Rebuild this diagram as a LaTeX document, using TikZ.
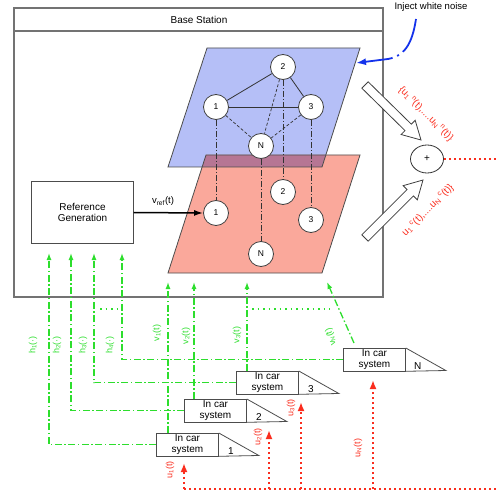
\documentclass[tikz,border=0pt]{standalone}
\usepackage{fontspec}
\setmainfont{Liberation Sans}
\usetikzlibrary{calc}
\usetikzlibrary{arrows.meta}
\usetikzlibrary{shapes.geometric}

\definecolor{planeblue}{RGB}{181,191,247}
\definecolor{planered}{RGB}{250,168,155}
\definecolor{planemix}{RGB}{182,118,148}
\definecolor{sigred}{RGB}{250,45,30}
\definecolor{siggreen}{RGB}{45,222,45}
\definecolor{noiseblue}{RGB}{20,50,235}
\definecolor{framegray}{RGB}{115,115,115}

\newcommand{\incar}[4] % node name, left x, top y (px), number
{
	% text part
	\node[carbox, anchor=north west] (#1) at (#2,#3) {In car\\system};
	% slanted part
	\draw[line width=0.8pt, draw=black!70] (#1.north east) -- ++(40,22.5) -- (#1.south east);
	\node[font=\fontsize{10}{11}\selectfont] (#1num) at ($(#1.south east)+(12,-5.5)$) {#4};
}

\newcommand{\blockarrow}[2] % tail, tip
{
	\coordinate (head) at ($(#2)!18pt!(#1)$);
	\draw[fill=white, draw=black!75, line width=0.8pt]
		($(#1)!4.5pt!90:(#2)$) -- ($(head)!4.5pt!90:(#2)$) -- ($(head)!10pt!90:(#2)$)
		-- (#2) -- ($(head)!10pt!-90:(#2)$) -- ($(head)!4.5pt!-90:(#2)$)
		-- ($(#1)!4.5pt!-90:(#2)$) -- cycle;
}

\begin{document}
\begin{tikzpicture}[x=1pt, y=-1pt,
	station/.style={draw=framegray, line width=1.1pt},
	plane/.style={draw=black!70, line width=0.8pt},
	vertex/.style={circle, draw=black!75, fill=white, line width=0.8pt, minimum size=25, inner sep=0, font=\fontsize{8.5}{9}\selectfont},
	carbox/.style={draw=black!70, line width=0.8pt, minimum width=62, minimum height=22.5, inner sep=0, align=center, font=\fontsize{10}{11}\selectfont},
	link/.style={black!80, line width=0.8pt},
	weaklink/.style={black!80, line width=0.7pt, dash pattern=on 3pt off 2pt},
	layerlink/.style={black!80, line width=0.7pt, dash pattern=on 6pt off 2pt on 1pt off 2pt},
	hline/.style={siggreen, line width=1.3pt, dash pattern=on 7pt off 2.5pt on 1.5pt off 2.5pt, -{Latex[length=7pt,width=5pt]}},
	gdots/.style={siggreen, line width=1.5pt, dash pattern=on 1.5pt off 4pt},
	uline/.style={sigred, line width=1.8pt, dash pattern=on 2pt off 3pt, -{Latex[length=9pt,width=7pt]}},
	rdots/.style={sigred, line width=1.8pt, dash pattern=on 2pt off 3pt},
	noise/.style={noiseblue, line width=1.8pt, dash pattern=on 36pt off 5pt on 2pt off 5pt, -{Latex[length=10pt,width=7pt]}},
	glabel/.style={text=siggreen, font=\fontsize{9}{10}\selectfont, rotate=#1},
	glabel/.default=90,
	rlabel/.style={text=sigred, font=\fontsize{9}{10}\selectfont, rotate=90},
]
	\useasboundingbox (0,0) rectangle (498,497);

	% base station frame
	\draw[station] (14,8) rectangle (383,297);
	\draw[station] (14,31) -- (383,31);
	\node[font=\fontsize{10}{12}\selectfont] (title) at (199,20) {Base Station};

	% the two planes
	\coordinate (bl1) at (207,48);
	\coordinate (bl2) at (360,48);
	\coordinate (bl3) at (322,167);
	\coordinate (bl4) at (168,167);
	\coordinate (rd1) at (206,155);
	\coordinate (rd2) at (360,155);
	\coordinate (rd3) at (322,273);
	\coordinate (rd4) at (168,273);
	\fill[planeblue] (bl1) -- (bl2) -- (bl3) -- (bl4) -- cycle;
	\fill[planered] (rd1) -- (rd2) -- (rd3) -- (rd4) -- cycle;
	\begin{scope}
		\clip (bl1) -- (bl2) -- (bl3) -- (bl4) -- cycle;
		\fill[planemix] (rd1) -- (rd2) -- (rd3) -- (rd4) -- cycle;
	\end{scope}
	\draw[plane] (bl1) -- (bl2) -- (bl3) -- (bl4) -- cycle;
	\draw[plane] (rd1) -- (rd2) -- (rd3) -- (rd4) -- cycle;

	% upper layer
	\node[vertex] (up2) at (283,67) {2};
	\node[vertex] (up1) at (216,107) {1};
	\node[vertex] (up3) at (311,107) {3};
	\node[vertex] (upN) at (261,146) {N};
	% lower layer
	\node[vertex] (lo1) at (216,213) {1};
	\node[vertex] (lo2) at (283,192) {2};
	\node[vertex] (lo3) at (311,220) {3};
	\node[vertex] (loN) at (261,254) {N};

	\draw[link] (up1) -- (up2);
	\draw[link] (up2) -- (up3);
	\draw[link] (up1) -- (up3);
	\draw[weaklink] (up1) -- (upN);
	\draw[weaklink] (up3) -- (upN);
	\draw[weaklink] (up2) -- (upN);
	\draw[layerlink] (up1) -- (lo1);
	\draw[layerlink] (up2) -- (lo2);
	\draw[layerlink] (up3) -- (lo3);
	\draw[layerlink] (upN) -- (loN);

	% reference
	\node[draw=black!70, line width=0.8pt, minimum width=101.6, minimum height=61.6, align=center, font=\fontsize{10}{11.7}\selectfont] (refgen) at (82.5,212.5) {Reference\\Generation};
	\draw[line width=1.5pt, -{Latex[length=9pt,width=6pt]}] (refgen.east) -- (lo1.west);
	\node[font=\fontsize{9.5}{10}\selectfont] (vref) at (163,201) {v\textsubscript{ref}(t)};

	% noise
	\node[font=\fontsize{9.5}{11}\selectfont] (noisetext) at (431,7) {Inject white noise};
	\coordinate (noisestart) at (416,19);
	\coordinate (noiseend) at (356,63);
	\draw[noise] (noisestart) .. controls (412,45) and (404,56) .. (388,59) -- (noiseend);

	% summation
	\node[draw=black!80, ellipse, line width=0.8pt, minimum width=33, minimum height=28, inner sep=0] (sum) at (427,159) {+};
	\coordinate (sumout) at (498,159);
	\draw[rdots] (sum.east) -- (sumout);
	\coordinate (upperTail) at (365,85);
	\coordinate (upperTip) at (421,140);
	\coordinate (lowerTail) at (365,238);
	\coordinate (lowerTip) at (423,180);
	\blockarrow{upperTail}{upperTip}
	\blockarrow{lowerTail}{lowerTip}
	\node[text=sigred, font=\fontsize{10}{11}\selectfont, rotate=-45] (nset) at (426,114) {\{u\textsubscript{1}\,\textsuperscript{n}(t),....u\textsubscript{N}\,\textsuperscript{n}(t)\}};
	\node[text=sigred, font=\fontsize{10}{11}\selectfont, rotate=45] (cset) at (428,210) {u\textsubscript{1}\,\textsuperscript{c}(t),....u\textsubscript{N}\,\textsuperscript{c}(t)\}};

	% in car systems
	\incar{car1}{156}{433}{1}
	\incar{car2}{184}{399}{2}
	\incar{car3}{236}{371}{3}
	\incar{carN}{343}{348}{N}

	% h signals
	\coordinate (h1end) at (49,253);
	\coordinate (h2end) at (71,253);
	\coordinate (h3end) at (94,253);
	\coordinate (h4end) at (122,253);
	\draw[hline] (car1.west) -| (h1end);
	\draw[hline] (car2.west) -| (h2end);
	\draw[hline] (car3.west) -| (h3end);
	\draw[hline] (carN.west) -| (h4end);
	\node[glabel] (h1lab) at (33,345) {h\textsubscript{1}(·)};
	\node[glabel] (h2lab) at (57,345) {h\textsubscript{2}(·)};
	\node[glabel] (h3lab) at (83,345) {h\textsubscript{3}(·)};
	\node[glabel] (h4lab) at (110,345) {h\textsubscript{4}(·)};

	% v signals
	\coordinate (v1end) at (168,282);
	\coordinate (v2end) at (194,282);
	\coordinate (v3end) at (247,282);
	\coordinate (vNstart) at (354,343);
	\coordinate (vNend) at (327,282);
	\draw[hline] (car1.north west -| v1end) -- (v1end);
	\draw[hline] (car2.north west -| v2end) -- (v2end);
	\draw[hline] (car3.north west -| v3end) -- (v3end);
	\draw[hline] (vNstart) -- (vNend);
	\node[glabel] (v1lab) at (157,333) {v\textsubscript{1}(t)};
	\node[glabel] (v2lab) at (186,336) {v\textsubscript{2}(t)};
	\node[glabel] (v3lab) at (237,335) {v\textsubscript{3}(t)};
	\node[glabel=108] (vNlab) at (331,337) {v\textsubscript{N}(t)};
	\draw[gdots] (100,309) -- (117,309);
	\draw[gdots] (252,309) -- (330,309);

	% u signals
	\coordinate (u1end) at (184,463);
	\coordinate (u2end) at (269,430);
	\coordinate (u3end) at (301,402);
	\coordinate (uNend) at (373,380);
	\coordinate (busend) at (498,489);
	\draw[rdots] (u1end |- busend) -- (busend);
	\draw[uline] (u1end |- busend) -- (u1end);
	\draw[uline] (u2end |- busend) -- (u2end);
	\draw[uline] (u3end |- busend) -- (u3end);
	\draw[uline] (uNend |- busend) -- (uNend);
	\node[rlabel] (u1lab) at (170,470) {u\textsubscript{1}(t)};
	\node[rlabel] (u2lab) at (258,437) {u\textsubscript{2}(t)};
	\node[rlabel] (u3lab) at (291,408) {u\textsubscript{3}(t)};
	\node[rlabel] (uNlab) at (358,448) {u\textsubscript{N}(t)};
\end{tikzpicture}
\end{document}
